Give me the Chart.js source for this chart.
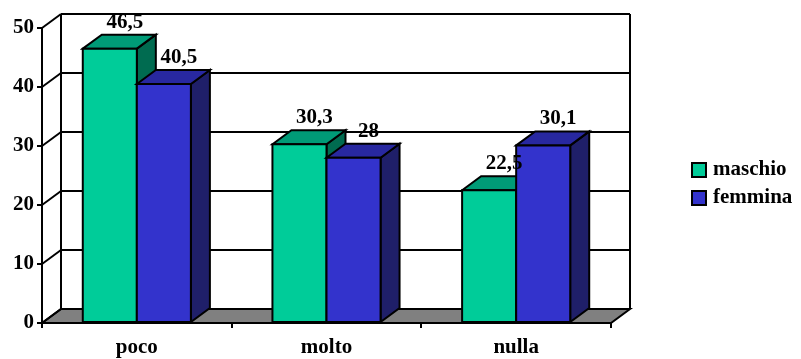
<!DOCTYPE html>
<html>
<head>
<meta charset="utf-8">
<script src="https://cdn.jsdelivr.net/npm/chart.js@4/dist/chart.umd.min.js"></script>
<style>
  html, body { margin: 0; padding: 0; background: #fff; }
  #wrap { width: 801px; height: 359px; }
</style>
</head>
<body>
<div id="wrap"><canvas id="c" width="801" height="359"></canvas></div>
<script>
// Survey answers by gender
const categories = ['poco', 'molto', 'nulla'];
const seriesNames = ['maschio', 'femmina'];
const maschio = [46.5, 30.3, 22.5];
const femmina = [40.5, 28, 30.1];
const yTicks = [0, 10, 20, 30, 40, 50];

// Face colours for the extruded bars: front, top, side
const faceColors = [
  { front: '#00CC99', top: '#009B77', side: '#006B50' },
  { front: '#3333CC', top: '#2828A0', side: '#1F1F69' }
];

const FONT = '"Liberation Serif", "Times New Roman", serif';
const FONT_SIZE = 21;
const DX = 19;   // depth offset, horizontal
const DY = -14;  // depth offset, vertical

function seg(ctx, x1, y1, x2, y2) {
  ctx.beginPath(); ctx.moveTo(x1, y1); ctx.lineTo(x2, y2); ctx.stroke();
}
function poly(ctx, pts, fill) {
  ctx.beginPath();
  ctx.moveTo(pts[0][0], pts[0][1]);
  for (let i = 1; i < pts.length; i++) ctx.lineTo(pts[i][0], pts[i][1]);
  ctx.closePath();
  ctx.fillStyle = fill; ctx.fill(); ctx.stroke();
}

const box3d = {
  id: 'box3d',
  beforeDatasetsDraw(chart) {
    const { ctx, chartArea: a, scales: { y } } = chart;
    const y0 = y.getPixelForValue(0);
    ctx.save();
    ctx.strokeStyle = '#000';
    ctx.lineWidth = 2;
    ctx.lineJoin = 'miter';
    // floor
    poly(ctx, [[a.left, y0], [a.right, y0], [a.right + DX, y0 + DY], [a.left + DX, y0 + DY]], '#808080');
    // back wall and side wall gridlines
    y.ticks.forEach(t => {
      const py = y.getPixelForValue(t.value);
      seg(ctx, a.left, py, a.left + DX, py + DY);
      seg(ctx, a.left + DX, py + DY, a.right + DX, py + DY);
    });
    const yTop = y.getPixelForValue(y.max);
    seg(ctx, a.left + DX, yTop + DY, a.left + DX, y0 + DY);
    seg(ctx, a.right + DX, yTop + DY, a.right + DX, y0 + DY);
    ctx.restore();
  },
  beforeDatasetDraw() {
    return false; // bars are drawn as boxes below
  },
  afterDatasetsDraw(chart) {
    const { ctx } = chart;
    ctx.save();
    ctx.strokeStyle = '#000';
    ctx.lineWidth = 2;
    ctx.lineJoin = 'miter';
    chart.data.datasets.forEach((ds, d) => {
      const c = faceColors[d];
      chart.getDatasetMeta(d).data.forEach(bar => {
        const { x, y, base, width } = bar.getProps(['x', 'y', 'base', 'width'], true);
        const l = x - width / 2, r = x + width / 2;
        poly(ctx, [[r, y], [r + DX, y + DY], [r + DX, base + DY], [r, base]], c.side);
        poly(ctx, [[l, y], [l + DX, y + DY], [r + DX, y + DY], [r, y]], c.top);
        poly(ctx, [[l, y], [r, y], [r, base], [l, base]], c.front);
      });
    });
    // value labels
    ctx.fillStyle = '#000';
    ctx.font = 'bold ' + FONT_SIZE + 'px ' + FONT;
    ctx.textAlign = 'center';
    ctx.textBaseline = 'alphabetic';
    chart.data.datasets.forEach((ds, d) => {
      chart.getDatasetMeta(d).data.forEach((bar, i) => {
        const { x, y } = bar.getProps(['x', 'y'], true);
        const txt = String(ds.data[i]).replace('.', ',');
        ctx.fillText(txt, x + 15, y + DY - 7);
      });
    });
    ctx.restore();
  },
  afterDraw(chart) {
    // legend
    const { ctx } = chart;
    ctx.save();
    ctx.font = 'bold ' + FONT_SIZE + 'px ' + FONT;
    ctx.textAlign = 'left';
    ctx.textBaseline = 'middle';
    ctx.lineWidth = 2;
    ctx.strokeStyle = '#000';
    chart.data.datasets.forEach((ds, d) => {
      const top = 163 + d * 28;
      ctx.fillStyle = ds.backgroundColor;
      ctx.fillRect(692, top, 14, 14);
      ctx.strokeRect(692, top, 14, 14);
      ctx.fillStyle = '#000';
      ctx.fillText(ds.label, 713, top + 7);
    });
    ctx.restore();
  }
};

new Chart(document.getElementById('c'), {
  type: 'bar',
  data: {
    labels: categories,
    datasets: [
      { label: seriesNames[0], data: maschio, backgroundColor: faceColors[0].front, borderColor: '#000', borderWidth: 2 },
      { label: seriesNames[1], data: femmina, backgroundColor: faceColors[1].front, borderColor: '#000', borderWidth: 2 }
    ]
  },
  options: {
    responsive: false,
    animation: false,
    devicePixelRatio: 1,
    layout: { padding: { top: 28, right: 190, bottom: 0, left: 0 } },
    datasets: { bar: { categoryPercentage: 0.57, barPercentage: 1 } },
    plugins: { legend: { display: false }, tooltip: { enabled: false } },
    scales: {
      x: {
        offset: true,
        grid: { offset: true, drawOnChartArea: false, drawTicks: true, tickLength: 5, color: '#000', lineWidth: 2 },
        border: { display: true, color: '#000', width: 2 },
        ticks: { color: '#000', padding: 7, font: { family: FONT, size: FONT_SIZE, weight: 'bold' } },
        afterFit(s) { s.height = 36; }
      },
      y: {
        min: 0, max: 50,
        afterBuildTicks(s) { s.ticks = yTicks.map(v => ({ value: v })); },
        grid: { drawOnChartArea: false, drawTicks: true, tickLength: 5, color: '#000', lineWidth: 2 },
        border: { display: true, color: '#000', width: 2 },
        ticks: { color: '#000', padding: 3, font: { family: FONT, size: FONT_SIZE, weight: 'bold' } },
        afterFit(s) { s.width = 42; }
      }
    }
  },
  plugins: [box3d]
});
</script>
</body>
</html>
